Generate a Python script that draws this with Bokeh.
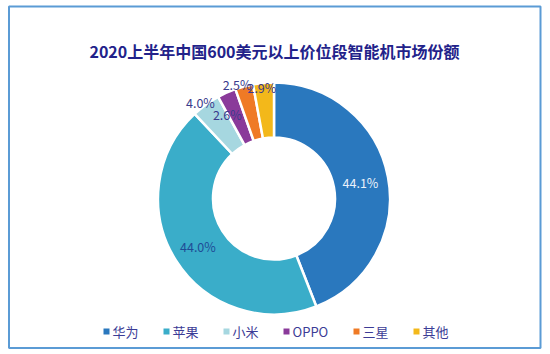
import math
from bokeh.plotting import figure
from bokeh.models import Range1d
from bokeh.core.properties import value
from bokeh.embed import file_html
from bokeh.resources import INLINE

# ---- data ----
title = "2020上半年中国600美元以上价位段智能机市场份额"
brands = ["华为", "苹果", "小米", "OPPO", "三星", "其他"]
shares = [44.1, 44.0, 4.0, 2.6, 2.5, 2.9]
labels = ["44.1%", "44.0%", "4.0%", "2.6%", "2.5%", "2.9%"]

# ---- styles / layout ----
colors = ["#2A78BE", "#3AADC9", "#A6D7E0", "#8A3A9A", "#EF7A25", "#F3B81A"]
label_colors = ["#EAF2FB", "#1F4C96", "#3A3A8C", "#3A3A8C", "#3A3A8C", "#3A3A8C"]
label_r = [88, 90, 121, 96, 120, 112]          # label radius (px)
label_da = [0, 0, -1.5, -5, -3, -1]            # angle nudge (deg)
legend_x = [106, 166, 226, 286, 356, 416]      # legend square x (px)
W, H = 550, 354
cx, cy = 273.5, H - 198
r_out, r_in = 116, 61
FONT = "Noto Sans CJK SC"

p = figure(width=W, height=H, output_backend="svg", toolbar_location=None,
           x_range=Range1d(0, W), y_range=Range1d(0, H), min_border=0)
p.axis.visible = False
p.grid.visible = False
p.outline_line_color = None
p.background_fill_color = "white"
p.border_fill_color = "white"

# frame
p.quad(left=[8.5], right=[540], bottom=[H - 347.5], top=[H - 6],
       fill_color=None, line_color="#5B9BD5", line_width=2)

# wedges
total = sum(shares)
starts, ends, mids = [], [], []
acc = 0.0
for s in shares:
    a0 = math.pi / 2 - 2 * math.pi * acc / total
    acc += s
    a1 = math.pi / 2 - 2 * math.pi * acc / total
    starts.append(a0)
    ends.append(a1)
    mids.append((a0 + a1) / 2)

p.annular_wedge(x=cx, y=cy, inner_radius=r_in, outer_radius=r_out,
                start_angle=starts, end_angle=ends, direction="clock",
                fill_color=colors, line_color="white", line_width=2.5,
                inner_radius_units="screen", outer_radius_units="screen")

lx, ly = [], []
for m, r, da in zip(mids, label_r, label_da):
    a = m - math.radians(da)
    lx.append(cx + r * math.cos(a))
    ly.append(cy + r * math.sin(a))
p.text(x=lx, y=ly, text=labels, text_color=label_colors,
       text_font=value(FONT), text_font_size="12.5px",
       text_align="center", text_baseline="middle")

# title
p.text(x=[274], y=[H - 50], text=[title], text_color="#22228A",
       text_font=value(FONT), text_font_size="16px", text_font_style="bold",
       text_align="center", text_baseline="middle")

# legend
ly_leg = H - 331
p.rect(x=legend_x, y=[ly_leg] * len(brands), width=6, height=6,
       fill_color=colors, line_color=None)
p.text(x=[x + 6 for x in legend_x], y=[ly_leg] * len(brands), text=brands,
       text_color="#3C3C96", text_font=value(FONT), text_font_size="13px",
       text_align="left", text_baseline="middle")

open("out.html", "w").write(file_html(p, INLINE))
